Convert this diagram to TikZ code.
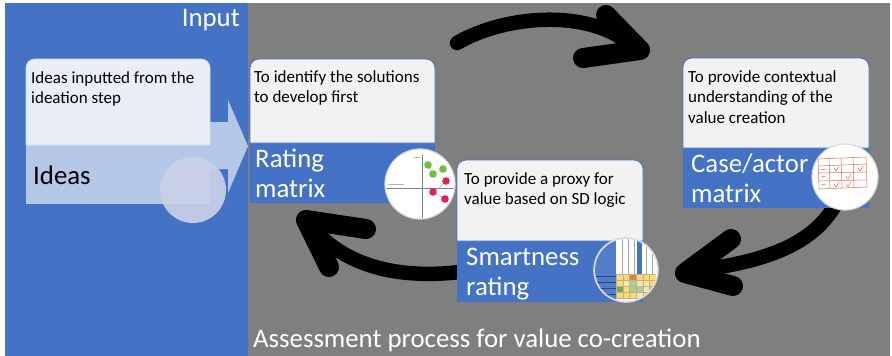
\documentclass[tikz,border=0pt]{standalone}
\usepackage{fontspec}
\setmainfont{Carlito}
\definecolor{accent}{HTML}{4472C4}
\definecolor{panelgray}{HTML}{7F7F7F}
\definecolor{cardgray}{HTML}{F2F2F2}
\definecolor{ideatop}{HTML}{E9EEF7}
\definecolor{ideabot}{HTML}{B4C7E7}
\definecolor{ideaball}{HTML}{CAD1E8}
\definecolor{ringgray}{HTML}{D9D9D9}
\definecolor{cellY}{HTML}{FFD966}
\definecolor{cellL}{HTML}{FFE699}
\definecolor{cellG}{HTML}{A9D18E}
\definecolor{cellD}{HTML}{70AD47}
\definecolor{cellO}{HTML}{ED7D31}
\definecolor{sketchred}{HTML}{E8685A}
\definecolor{dotgreen}{HTML}{70C040}
\definecolor{dotpink}{HTML}{E0205A}
% upper panel of a card, rounded at the top only: left, top, divider, right
\newcommand\cardtoppath[4]{(#1,#3) -- (#1,#2+9) arc[start angle=180,end angle=270,radius=9]
  -- (#4-9,#2) arc[start angle=270,end angle=360,radius=9] -- (#4,#3) -- cycle}
\begin{document}
\begin{tikzpicture}[x=1pt,y=-1pt,
  small/.style={font=\fontsize{17}{20.5}\selectfont, align=left, inner sep=0pt, text=black},
  big/.style={font=\fontsize{26.8}{30}\selectfont, align=left, inner sep=0pt, text=white},
  cardface/.style={fill=cardgray, draw=accent, line width=0.8pt},
  thumb/.style={circle, inner sep=0pt, fill=white, draw=ringgray, line width=1.2pt},
  loopline/.style={line width=14.5pt, line cap=round, line join=round, draw=black},
  loophead/.style={line width=20pt, line cap=round, line join=round, draw=black}]
\useasboundingbox (0,0) rectangle (892,356);
\fill[white] (0,0) rectangle (892,356);
% panels
\fill[accent] (5,3) rectangle (248,356);
\fill[panelgray] (248,3) rectangle (890,356);
\node[big, anchor=north east] (inputlbl) at (240,9) {Input};
\node[big, anchor=north west] (processlbl) at (253,329) {Assessment process for value co-creation};

% cycle arrows
\coordinate (topA) at (457,43);
\coordinate (topB) at (632,46);
\coordinate (topTip) at (640,50);
\draw[loopline] (topA) .. controls (505,15) and (590,8) .. (topB);
\draw[loophead] (606,15) -- (topTip) -- (583,58);

\coordinate (rightA) at (838,200);
\coordinate (rightB) at (692,271);
\coordinate (rightTip) at (685,273);
\draw[loopline] (rightA) .. controls (815,245) and (765,262) .. (rightB);
\draw[loophead] (731,239) -- (rightTip) -- (733,286);

\coordinate (leftA) at (460,272);
\coordinate (leftB) at (310,225);
\coordinate (leftTip) at (306,220);
\draw[loopline] (leftA) .. controls (390,280) and (340,262) .. (leftB);
\draw[loophead] (366,229) -- (leftTip) -- (329,267);

% ideas card with its block arrow
\fill[ideabot] (200,122) -- (228,122) -- (228,100) -- (248,146) -- (228,193) -- (228,169) -- (200,169) -- cycle;
\fill[ideabot] (26,145) rectangle (210,204);
\path[fill=ideatop, draw=ideatop!85!accent, line width=0.8pt] \cardtoppath{26}{59}{145}{210};
\node[circle, inner sep=0pt, minimum size=66pt, fill=ideaball, fill opacity=0.92] (ideaball) at (193,190) {};
\node[small, anchor=north west] (ideasdesc) at (31,71) {Ideas inputted from the\\ideation step};
\node[big, anchor=north west, text=black] (ideastitle) at (33,166) {Ideas};

% rating matrix card
\fill[accent] (250,143) rectangle (435,203);
\path[cardface] \cardtoppath{250}{59}{143}{435};
\node[small, anchor=north west] (ratingdesc) at (254,70) {To identify the solutions\\to develop first};
\node[big, anchor=north west] (ratingtitle) at (255,149) {Rating\\matrix};
\node[thumb, minimum size=70pt] (ratingpic) at (420,184) {};
\begin{scope}
  \clip (420,184) circle[radius=34];
  \draw[gray, line width=0.6pt] (422,155) -- (422,220);
  \draw[gray, line width=0.6pt] (384,188) -- (456,188);
  \draw[gray!70, line width=0.4pt] (428,165) -- (433,174) -- (443,169);
  \draw[gray!70, line width=0.4pt] (446,181) -- (440,187) -- (433,192) -- (445,199);
  \fill[dotgreen] (428,165) circle[radius=3.8] (433,174) circle[radius=3.8] (443,169) circle[radius=3.8];
  \fill[dotpink] (446,181) circle[radius=3.8] (433,192) circle[radius=3.8] (445,199) circle[radius=3.8];
  \draw[gray!60, line width=0.5pt] (388,184) -- (404,184) (414,157) -- (420,157);
\end{scope}

% smartness rating card
\fill[accent] (457,241) rectangle (643,302);
\path[cardface] \cardtoppath{457}{160}{241}{643};
\node[small, anchor=north west] (smartdesc) at (464,172) {To provide a proxy for\\value based on SD logic};
\node[big, anchor=north west] (smarttitle) at (466,248) {Smartness\\rating};
\node[thumb, minimum size=64pt] (smartpic) at (626,270) {};
\begin{scope}
  \clip (626,270) circle[radius=31];
  \fill[accent!92!white] (590,236) rectangle (616,304);
  \foreach \yy in {276,282,288,294} \draw[accent!60!black, line width=0.4pt] (590,\yy) -- (616,\yy);
  \fill[accent] (637,236) rectangle (642,274);
  \foreach \xx in {622,628,634,646,652} \draw[gray!70, line width=0.4pt] (\xx,236) -- (\xx,274);
  \def\cw{6.7}
  \foreach \row [count=\r from 0] in {{cellY,cellY,cellO,cellY,cellY,cellY},{cellY,cellL,cellG,cellL,cellL,cellY},{cellD,cellY,cellG,cellG,cellL,cellG},{cellY,cellY,cellY,cellL,cellY,cellO}} {
    \foreach \cc [count=\c from 0] in \row {
      \fill[\cc, draw=gray!60, line width=0.3pt] (616+\c*\cw,274+\r*6) rectangle ++(\cw,6);
    }
  }
\end{scope}
\draw[ringgray, line width=1.2pt] (smartpic) circle[radius=32];

% case/actor matrix card
\fill[accent] (683,148) rectangle (869,208);
\path[cardface] \cardtoppath{683}{58}{148}{869};
\node[small, anchor=north west] (casedesc) at (688,70) {To provide contextual\\understanding of the\\value creation};
\node[big, anchor=north west] (casetitle) at (691,154) {Case/actor\\matrix};
\node[thumb, minimum size=66pt] (casepic) at (845,177) {};
\begin{scope}[sketchred, line width=0.5pt]
  \draw (818,159) -- (866,157) -- (867,187) -- (819,189) -- cycle;
  \draw (829,158) -- (830,188) (841,158) -- (842,188) (853,157) -- (854,188);
  \draw (818,166) -- (866,164) (818,173) -- (867,172) (819,181) -- (867,180);
  \draw (821,170) -- (826,169) (821,177) -- (826,176) (821,185) -- (826,184);
  \draw (834,168) -- (836,171) -- (839,166) (846,176) -- (848,179) -- (851,174)
        (834,184) -- (836,187) -- (839,182) (858,168) -- (860,171) -- (863,166)
        (846,184) -- (848,187) -- (851,182);
\end{scope}
\end{tikzpicture}
\end{document}
